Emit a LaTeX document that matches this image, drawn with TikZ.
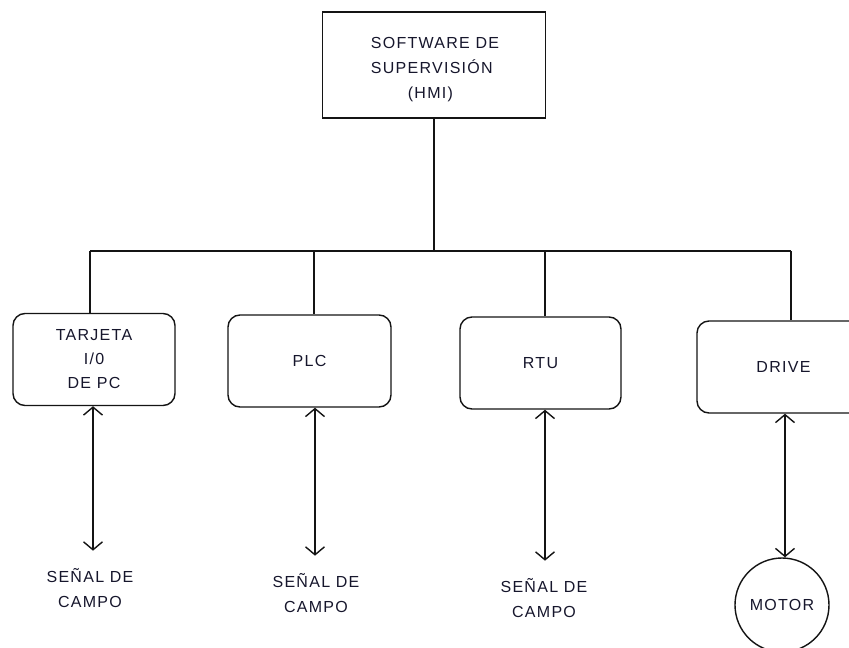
\documentclass[tikz,border=0pt]{standalone}
\usepackage{fontspec}
\setmainfont[LetterSpace=8]{Liberation Sans}
\usetikzlibrary{arrows.meta}
\definecolor{inkline}{RGB}{20,20,20}
\definecolor{inktext}{RGB}{22,22,44}
\begin{document}
\begin{tikzpicture}[x=1pt,y=-1pt,
  lw/.style={line width=1.4pt, draw=inkline},
  topbox/.style={lw, rectangle, minimum width=223pt, minimum height=106pt, inner sep=0pt},
  unitbox/.style={lw, rectangle, rounded corners=12pt, minimum height=92pt, inner sep=0pt,
                  font=\fontsize{16}{24}\selectfont, text=inktext, align=center},
  lbl/.style={font=\fontsize{16}{25}\selectfont, text=inktext, inner sep=0pt},
  motorc/.style={lw, circle, minimum size=94pt, inner sep=0pt,
                 font=\fontsize{16}{24}\selectfont, text=inktext},
  wire/.style={lw},
  biarrow/.style={lw, arrows={Straight Barb[length=8pt,width=19pt]-Straight Barb[length=8pt,width=19pt]}}
]
\useasboundingbox (0,0) rectangle (849,648);
\clip (0,0) rectangle (849,648);
\fill[white] (0,0) rectangle (849,648);

% supervisory software
\node[topbox] (hmi) at (434,65) {};
\node[lbl, align=left] (hmitxt) at (435,70)
  {SOFTWARE DE\\SUPERVISIÓN\\\hspace*{37pt}(HMI)};

% field units
\node[unitbox, minimum width=162pt] (tarjeta) at (94,359.5) {TARJETA\\I/0\\DE PC};
\node[unitbox, minimum width=163pt] (plc) at (309.5,361) {PLC};
\node[unitbox, minimum width=161pt] (rtu) at (540.5,363) {RTU};
\node[unitbox, minimum width=173pt] (drive) at (783.5,367) {DRIVE};

% bus
\coordinate (busL) at (90,251);
\coordinate (busR) at (791,251);
\draw[wire] (hmi.south) -- (hmi.south |- busL);
\draw[wire] (busL) -- (busR);
\draw[wire] (busL) -- (busL |- tarjeta.north);
\draw[wire] ([xshift=4.5pt]plc.north) -- ([xshift=4.5pt]plc.north |- busL);
\draw[wire] ([xshift=4.5pt]rtu.north) -- ([xshift=4.5pt]rtu.north |- busL);
\draw[wire] (busR) -- (busR |- drive.north);

% field signals
\node[lbl, align=center] (sig1) at (90,588.5) {SEÑAL DE\\CAMPO};
\node[lbl, align=center] (sig2) at (316,593.5) {SEÑAL DE\\CAMPO};
\node[lbl, align=center] (sig3) at (544,598.5) {SEÑAL DE\\CAMPO};
\node[motorc] (motor) at (782,605) {MOTOR};

\draw[biarrow, shorten >=18pt] ([xshift=-1pt]tarjeta.south) -- ([xshift=-1pt]tarjeta.south |- sig1.north);
\draw[biarrow, shorten >=18pt] ([xshift=5.5pt]plc.south) -- ([xshift=5.5pt]plc.south |- sig2.north);
\draw[biarrow, shorten >=18pt] ([xshift=4.5pt]rtu.south) -- ([xshift=4.5pt]rtu.south |- sig3.north);
\draw[biarrow] ([xshift=1.5pt]drive.south) -- ([xshift=1.5pt]drive.south |- motor.north);
\end{tikzpicture}
\end{document}
